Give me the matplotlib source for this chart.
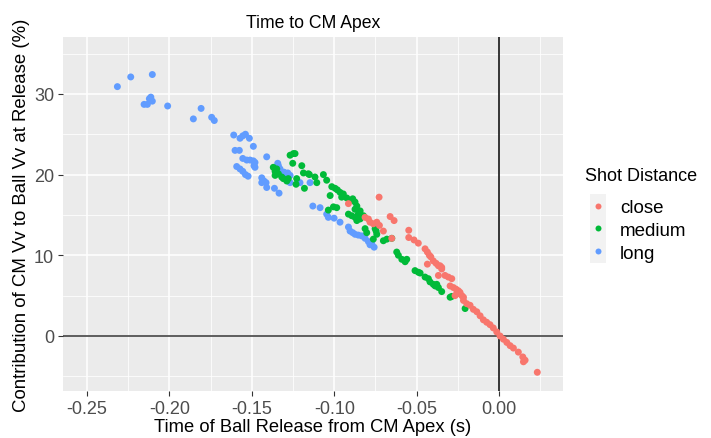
import matplotlib
matplotlib.use('Agg')
import matplotlib.pyplot as plt
from matplotlib.lines import Line2D
from matplotlib.patches import Rectangle
import numpy as np

plt.rcParams['font.family'] = ['Liberation Sans', 'DejaVu Sans']

# time of ball release from CM apex (s), contribution of CM Vv (%)
long_x = [-0.2316, -0.2235, -0.2104, -0.2113, -0.2104, -0.2122, -0.2154, -0.2134,
          -0.2011, -0.1855, -0.1808, -0.1744, -0.1728, -0.1610, -0.1572, -0.1555,
          -0.1539, -0.1515, -0.1491, -0.1602, -0.1576, -0.1555, -0.1531, -0.1511,
          -0.1491, -0.1481, -0.1487, -0.1481, -0.1410, -0.1592, -0.1572, -0.1555,
          -0.1539, -0.1523, -0.1440, -0.1426, -0.1414, -0.1440, -0.1410, -0.1363,
          -0.1335, -0.1343, -0.1339, -0.1329, -0.1349, -0.1305, -0.1282, -0.1268,
          -0.1288, -0.1268, -0.1147, -0.1208, -0.1130, -0.1086, -0.1046, -0.1036,
          -0.1001, -0.0965, -0.0914, -0.0904, -0.0888, -0.0874, -0.0854, -0.0833,
          -0.0813, -0.0793, -0.0772, -0.0758, -0.0783]
long_y = [30.9, 32.1, 32.4, 29.6, 29.1, 29.4, 28.7, 28.7,
          28.5, 26.9, 28.2, 27.1, 26.7, 24.9, 24.5, 24.8,
          25.0, 24.5, 23.5, 23.0, 23.0, 22.0, 21.8, 21.8,
          21.7, 21.5, 21.1, 20.9, 22.2, 21.0, 20.7, 20.4,
          20.0, 19.8, 19.6, 19.2, 19.0, 19.0, 18.4, 18.3,
          17.7, 21.4, 21.1, 20.7, 20.5, 20.3, 20.2, 19.9,
          19.7, 19.0, 19.0, 19.0, 16.1, 15.9, 15.1, 14.7,
          14.6, 14.1, 13.5, 13.0, 12.8, 12.6, 12.5, 12.4,
          12.1, 11.7, 11.5, 11.0, 11.3]

medium_x = [-0.1268, -0.1248, -0.1238, -0.1252, -0.1197, -0.1187, -0.1157, -0.1370,
            -0.1349, -0.1359, -0.1339, -0.1359, -0.1319, -0.1309, -0.1288, -0.1279,
            -0.1228, -0.1232, -0.1181, -0.1151, -0.1117, -0.1106, -0.1066, -0.1046,
            -0.1015, -0.0995, -0.0981, -0.0965, -0.0945, -0.0955, -0.0924, -0.0904,
            -0.0888, -0.0874, -0.1025, -0.1005, -0.0985, -0.1036, -0.0863, -0.0874,
            -0.0843, -0.0854, -0.0914, -0.0894, -0.0874, -0.0843, -0.0863, -0.0823,
            -0.0813, -0.0803, -0.0752, -0.0742, -0.0763, -0.0746, -0.0702, -0.0681,
            -0.0651, -0.0621, -0.0611, -0.0590, -0.0570, -0.0560, -0.0510, -0.0490,
            -0.0479, -0.0449, -0.0429, -0.0419, -0.0399, -0.0388, -0.0378, -0.0368,
            -0.0348, -0.0297, -0.0287, -0.0206]
medium_y = [22.4, 22.6, 22.6, 21.4, 21.1, 20.2, 20.1, 20.9,
            20.7, 20.4, 20.1, 19.9, 19.7, 19.5, 19.2, 19.5,
            19.5, 18.8, 18.3, 20.0, 19.7, 19.0, 20.0, 19.3,
            18.5, 18.3, 18.1, 17.8, 17.6, 17.2, 17.1, 16.8,
            17.0, 16.6, 17.4, 16.0, 15.9, 15.6, 16.1, 15.7,
            15.5, 15.1, 15.1, 14.9, 14.7, 14.5, 14.3, 14.9,
            13.3, 12.8, 13.3, 12.6, 12.0, 13.0, 11.8, 12.0,
            12.1, 10.4, 10.0, 9.5, 9.2, 9.5, 8.1, 7.9,
            7.8, 7.3, 7.1, 6.7, 6.4, 6.2, 6.4, 6.0,
            5.5, 4.8, 4.9, 3.4]

close_x = [-0.0728, -0.0914, -0.0813, -0.0793, -0.0783, -0.0763, -0.0742, -0.0726,
           -0.0702, -0.0661, -0.0637, -0.0651, -0.0548, -0.0548, -0.0516, -0.0490,
           -0.0449, -0.0435, -0.0423, -0.0414, -0.0399, -0.0382, -0.0368, -0.0348,
           -0.0435, -0.0368, -0.0358, -0.0348, -0.0328, -0.0308, -0.0287, -0.0297,
           -0.0277, -0.0261, -0.0247, -0.0237, -0.0257, -0.0267, -0.0226, -0.0216,
           -0.0216, -0.0196, -0.0176, -0.0156, -0.0135, -0.0115, -0.0095, -0.0075,
           -0.0055, -0.0035, -0.0014, 0.0006, 0.0026, 0.0047, 0.0067, 0.0087,
           0.0117, 0.0144, 0.0158, 0.0148, 0.0232]
close_y = [17.2, 16.4, 14.7, 14.5, 14.1, 13.9, 14.1, 13.7,
           13.0, 14.8, 14.3, 12.1, 13.1, 12.2, 11.9, 11.5,
           10.8, 10.4, 10.0, 9.8, 9.3, 9.0, 8.7, 8.5,
           8.9, 7.5, 8.7, 8.3, 7.5, 7.3, 7.1, 6.2,
           6.0, 5.8, 5.6, 5.4, 5.2, 5.0, 5.0, 4.8,
           4.4, 4.0, 3.8, 3.3, 3.0, 2.5, 2.0, 1.7,
           1.4, 1.0, 0.5, 0.0, -0.4, -0.8, -1.2, -1.5,
           -2.0, -2.6, -3.0, -3.2, -4.5]

groups = ['close', 'medium', 'long']
colors = {'close': '#F8766D', 'medium': '#00BA38', 'long': '#619CFF'}
series = {'close': (close_x, close_y), 'medium': (medium_x, medium_y),
          'long': (long_x, long_y)}

fig = plt.figure(figsize=(7.11, 4.39), dpi=100)
ax = fig.add_axes([63 / 711, 47 / 439, 500 / 711, 354 / 439])
ax.set_facecolor('#EBEBEB')

for g in ['long', 'medium', 'close']:
    xs, ys = series[g]
    ax.scatter(xs, ys, s=25, color=colors[g], edgecolors='none', zorder=3)

ax.axhline(0, color='#333333', lw=1.1, zorder=2)
ax.axvline(0, color='black', lw=1.1, zorder=2)

ax.set_xlim(-0.2646, 0.0388)
ax.set_ylim(-6.82, 37.05)
ax.set_xticks([-0.25, -0.20, -0.15, -0.10, -0.05, 0.00])
ax.set_xticklabels(['-0.25', '-0.20', '-0.15', '-0.10', '-0.05', '0.00'])
ax.set_yticks([0, 10, 20, 30])
ax.set_xticks(np.arange(-0.225, 0.04, 0.05), minor=True)
ax.set_yticks([-5, 5, 15, 25, 35], minor=True)
ax.grid(which='major', color='white', lw=1.1, zorder=0)
ax.grid(which='minor', color='white', lw=0.55, zorder=0)
ax.set_axisbelow(True)
for sp in ax.spines.values():
    sp.set_visible(False)
ax.tick_params(which='major', length=3.5, color='#333333', labelcolor='#4D4D4D',
               labelsize=13, pad=3)
ax.tick_params(which='minor', length=0)

ax.set_title('Time to CM Apex', fontsize=12.7, pad=7)
ax.set_xlabel('Time of Ball Release from CM Apex (s)', fontsize=13.2, labelpad=1)
ax.set_ylabel('Contribution of CM Vv to Ball Vv at Release (%)', fontsize=13.4, labelpad=3)

# legend: title as plain text, keys with grey boxes like ggplot
fig.text(585 / 711, 1 - 177 / 439, 'Shot Distance', fontsize=13, va='center', ha='left')
handles = [Line2D([], [], ls='none', marker='o', markersize=4.3,
                  markerfacecolor=colors[g], markeredgecolor='none') for g in groups]
leg = fig.legend(handles, groups, loc='upper left',
                 bbox_to_anchor=(590 / 711, 1 - 200 / 439), borderaxespad=0,
                 frameon=False, fontsize=13.5, handlelength=0.9, handletextpad=0.7,
                 labelspacing=0.3, borderpad=0)

fig.canvas.draw()
inv = fig.transFigure.inverted()
for h in leg.legend_handles:
    bb = h.get_window_extent(fig.canvas.get_renderer())
    cx, cy = (bb.x0 + bb.x1) / 2, (bb.y0 + bb.y1) / 2
    (fx0, fy0), (fx1, fy1) = inv.transform([(cx - 8, cy - 11.5), (cx + 8, cy + 11.5)])
    fig.patches.append(Rectangle((fx0, fy0), fx1 - fx0, fy1 - fy0, transform=fig.transFigure,
                                 facecolor='#F2F2F2', edgecolor='none', zorder=-1))

fig.savefig('out.png', dpi=100)
